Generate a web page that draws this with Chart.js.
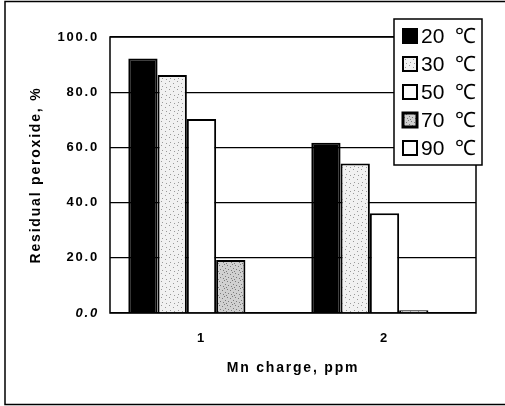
<!DOCTYPE html>
<html>
<head>
<meta charset="utf-8">
<script src="https://cdn.jsdelivr.net/npm/chart.js@4"></script>
<style>
  html, body { margin: 0; padding: 0; background: #fff; }
  #wrap { width: 505px; height: 406px; position: relative; }
</style>
</head>
<body>
<div id="wrap"><canvas id="peroxideChart" width="505" height="406"></canvas></div>
<script>
// ------------------ Data ------------------
const categories = ["1", "2"];
const seriesLabels = ["20 ℃", "30 ℃", "50 ℃", "70 ℃", "90 ℃"];
const res20 = [92.2, 61.7];
const res30 = [86.2, 54.2];
const res50 = [70.3, 36.1];
const res70 = [19.2, 1.0];
const res90 = [0, 0];
const yTicks = [0, 20, 40, 60, 80, 100];

// stippled fill, fixed dot layout (no randomness)
function stipple(base, dot, dots) {
    const c = document.createElement("canvas");
    c.width = 8; c.height = 8;
    const g = c.getContext("2d");
    g.fillStyle = base;
    g.fillRect(0, 0, 8, 8);
    g.fillStyle = dot;
    dots.forEach(([x, y]) => g.fillRect(x, y, 1, 1));
    return g.createPattern(c, "repeat");
}
const lightDots = stipple("#f1f1f1", "#9a9a9a", [[1, 1], [5, 3], [2, 6], [6, 7]]);
const darkDots = stipple("#d0d0d0", "#7a7a7a", [[0, 0], [3, 1], [6, 2], [1, 4], [4, 5], [7, 6], [2, 7]]);

const fills = ["#000000", lightDots, "#ffffff", darkDots, "#ffffff"];
const values = [res20, res30, res50, res70, res90];

const FONT = "'Liberation Sans', Arial, sans-serif";

// ------------------ Plugins ------------------
// the scanned figure has wide letter spacing on axis text
const spacingPlugin = {
    id: "spacing",
    beforeDraw(chart) { chart.ctx.letterSpacing = "1.8px"; },
    beforeDatasetsDraw(chart) { chart.ctx.letterSpacing = "0px"; },
    afterDraw(chart) { chart.ctx.letterSpacing = "0px"; }
};

// plot border + page frame + boxed legend over the plot
const framePlugin = {
    id: "frame",
    afterDraw(chart) {
        const { ctx, chartArea: a } = chart;
        ctx.save();
        ctx.strokeStyle = "#000";
        ctx.lineWidth = 1.5;
        ctx.strokeRect(a.left, a.top, a.right - a.left, a.bottom - a.top);

        // outer frame (left, top, bottom)
        ctx.beginPath();
        ctx.moveTo(505, 1.5); ctx.lineTo(5, 1.5); ctx.lineTo(5, 404.5); ctx.lineTo(505, 404.5);
        ctx.stroke();

        // legend box
        const lx = 394, ly = 19, lw = 88, lh = 146;
        ctx.fillStyle = "#fff";
        ctx.fillRect(lx, ly, lw, lh);
        ctx.strokeRect(lx, ly, lw, lh);
        ctx.font = "21px " + FONT;
        ctx.textBaseline = "middle";
        chart.data.datasets.forEach((ds, i) => {
            const cy = ly + 17 + i * 28;
            ctx.fillStyle = ds.backgroundColor;
            ctx.fillRect(403, cy - 7, 14, 14);
            ctx.strokeStyle = "#000";
            ctx.lineWidth = i === 3 ? 3 : 2;
            ctx.strokeRect(403, cy - 7, 14, 14);
            ctx.fillStyle = "#000";
            const [num, unit] = ds.label.split(" ");
            ctx.fillText(num, 421, cy + 1);
            ctx.fillText(unit, 455, cy + 1);
        });
        ctx.restore();
    }
};

// ------------------ Chart ------------------
new Chart(document.getElementById("peroxideChart"), {
    type: "bar",
    data: {
        labels: categories,
        datasets: seriesLabels.map((label, i) => ({
            label,
            data: values[i],
            backgroundColor: fills[i],
            borderColor: "#000",
            borderWidth: 2,
            borderSkipped: "bottom",
            barPercentage: 1,
            categoryPercentage: 0.8
        }))
    },
    options: {
        responsive: false,
        animation: false,
        layout: { padding: { left: 0, top: 37, right: 29, bottom: 0 } },
        plugins: {
            legend: { display: false },
            tooltip: { enabled: false }
        },
        scales: {
            x: {
                grid: { display: false, drawTicks: false },
                border: { display: false },
                ticks: {
                    padding: 18,
                    color: "#000",
                    font: { family: FONT, size: 13, weight: "bold" }
                },
                title: {
                    display: true,
                    text: "Mn charge, ppm",
                    color: "#000",
                    font: { family: FONT, size: 14, weight: "bold" },
                    padding: { top: 0, bottom: 29 }
                },
                afterFit(scale) { scale.height = 93; }
            },
            y: {
                min: 0,
                max: 100,
                afterBuildTicks(scale) { scale.ticks = yTicks.map(v => ({ value: v })); },
                grid: { color: "#000", lineWidth: 1.2, drawTicks: false },
                border: { display: false },
                ticks: {
                    padding: 11,
                    color: "#000",
                    callback: v => v.toFixed(1),
                    font: ctx => ({
                        family: FONT,
                        size: 13,
                        weight: "bold",
                        style: ctx.tick && ctx.tick.value === 0 ? "italic" : "normal"
                    })
                },
                title: {
                    display: true,
                    text: "Residual peroxide, %",
                    color: "#000",
                    font: { family: FONT, size: 14, weight: "bold" },
                    padding: { top: 28, bottom: 0 }
                },
                afterFit(scale) { scale.width = 110; }
            }
        }
    },
    plugins: [spacingPlugin, framePlugin]
});
</script>
</body>
</html>
